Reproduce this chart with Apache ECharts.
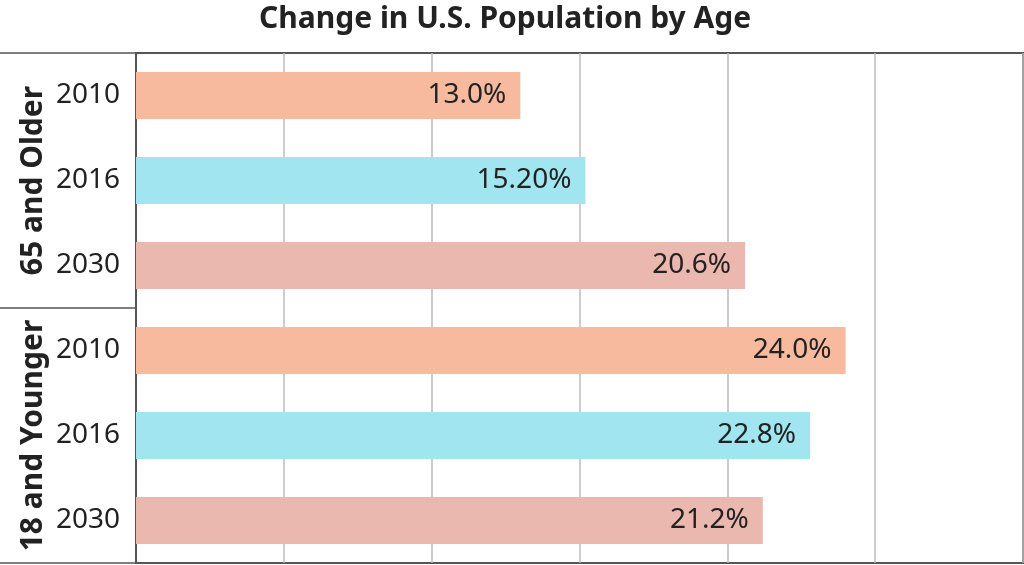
<!DOCTYPE html>
<html>
<head>
<meta charset="utf-8">
<script src="https://cdn.jsdelivr.net/npm/echarts@6/dist/echarts.min.js"></script>
<style>
  html, body { margin: 0; padding: 0; background: #fff; }
  #chart { width: 1024px; height: 565px; }
</style>
</head>
<body>
<div id="chart"></div>
<script>
  // data
  const years = ['2010', '2016', '2030', '2010', '2016', '2030'];
  const groups = ['65 and Older', '18 and Younger'];
  const values = [13.0, 15.2, 20.6, 24.0, 22.8, 21.2];
  const valueLabels = ['13.0%', '15.20%', '20.6%', '24.0%', '22.8%', '21.2%'];
  const yearColors = { '2010': '#f8ba9f', '2016': '#a0e5f0', '2030': '#ebb8af' };

  const font = '"Noto Sans", "Open Sans", sans-serif';
  const chart = echarts.init(document.getElementById('chart'));

  chart.setOption({
    animation: false,
    backgroundColor: '#fff',
    title: {
      text: 'Change in U.S. Population by Age',
      left: 254,
      top: -1,
      textStyle: { fontFamily: font, fontSize: 30, fontWeight: 'bold', color: '#222' }
    },
    grid: {
      left: 136, right: 1, top: 53, height: 510,
      show: true, borderColor: '#555', borderWidth: 2
    },
    xAxis: {
      type: 'value', min: 0, max: 30, interval: 5,
      axisLabel: { show: false },
      axisLine: { show: false },
      axisTick: { show: false },
      splitLine: { lineStyle: { color: '#bbb', width: 1.5 } }
    },
    yAxis: [{
      type: 'category',
      data: years,
      inverse: true,
      axisLine: { lineStyle: { color: '#555', width: 2 } },
      axisTick: { show: false },
      axisLabel: { interval: 0, fontFamily: font, fontSize: 28, color: '#222', margin: 16 }
    }, {
      type: 'category',
      data: groups,
      inverse: true,
      position: 'left',
      axisLine: { show: false },
      axisTick: { show: true, interval: 0, length: 136, lineStyle: { color: '#555', width: 1.5 } },
      axisLabel: {
        interval: 0, hideOverlap: false,
        fontFamily: font, fontSize: 30, fontWeight: 'bold', color: '#222',
        rotate: 90, margin: 88
      }
    }],
    series: [{
      type: 'bar',
      barWidth: 47,
      data: values.map((v, i) => ({
        value: v,
        itemStyle: { color: yearColors[years[i]] }
      })),
      label: {
        show: true,
        position: 'insideRight',
        distance: 14,
        formatter: p => valueLabels[p.dataIndex],
        fontFamily: font, fontSize: 28, color: '#222'
      }
    }]
  });
</script>
</body>
</html>
